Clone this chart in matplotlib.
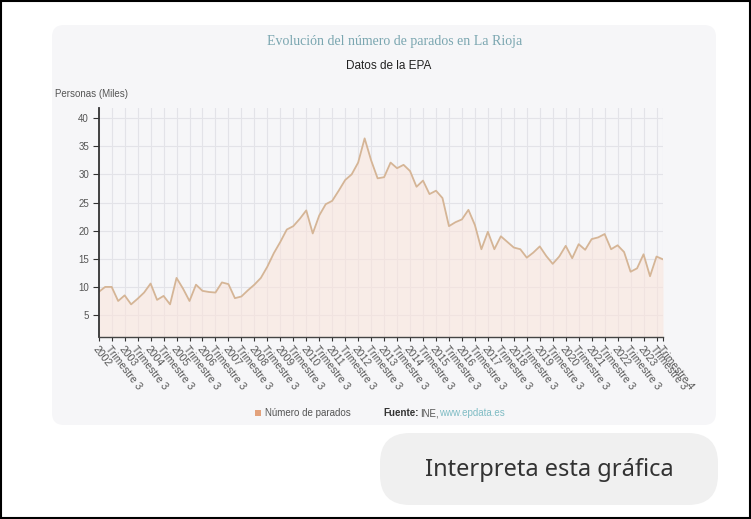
import numpy as np
import matplotlib.pyplot as plt
from matplotlib.patches import FancyBboxPatch, Rectangle

# quarterly unemployed (thousands), 2002 Q1 .. 2023 Q4
years = list(range(2002, 2024))
parados = [9.1, 10.0, 10.0, 7.5, 8.5, 6.9, 7.9, 9.0, 10.6, 7.7, 8.4, 6.9,
           11.6, 9.7, 7.5, 10.4, 9.3, 9.1, 9.0, 10.8, 10.5, 8.0, 8.3, 9.4,
           10.4, 11.6, 13.6, 16.0, 18.0, 20.2, 20.8, 22.1, 23.6, 19.5, 22.7, 24.7,
           25.3, 27.1, 29.0, 30.0, 32.1, 36.4, 32.5, 29.3, 29.5, 32.1, 31.1, 31.7,
           30.6, 27.8, 28.9, 26.5, 27.1, 25.8, 20.8, 21.5, 22.0, 23.7, 21.0, 16.7,
           19.8, 16.7, 19.0, 18.0, 17.0, 16.7, 15.2, 16.1, 17.2, 15.5, 14.1, 15.4,
           17.3, 15.1, 17.6, 16.6, 18.5, 18.8, 19.4, 16.7, 17.4, 16.2, 12.7, 13.3,
           15.8, 11.9, 15.4, 14.9]
yticks = [5, 10, 15, 20, 25, 30, 35, 40]

tick_pos = list(range(0, len(parados), 2)) + [len(parados) - 1]
tick_labels = []
for p in range(0, len(parados), 2):
    if p % 4 == 0:
        tick_labels.append(str(years[p // 4]))
    else:
        tick_labels.append('Trimestre 3')
tick_labels.append('Trimestre 4')

W, H = 751, 519
fig = plt.figure(figsize=(W / 100, H / 100), dpi=100)

# background layer in pixel coords
bg = fig.add_axes([0, 0, 1, 1])
bg.set_xlim(0, W)
bg.set_ylim(H, 0)
bg.axis('off')
bg.add_patch(Rectangle((1, 1), W - 2, H - 2, fc='white', ec='black', lw=1.5))
bg.add_patch(FancyBboxPatch((52, 25), 664, 400, boxstyle='round,pad=0,rounding_size=12',
                            fc='#f6f6f8', ec='none'))
bg.add_patch(FancyBboxPatch((380, 433), 338, 72, boxstyle='round,pad=0,rounding_size=30',
                            fc='#f0f0f0', ec='none'))

bg.text(395, 42, 'Evolución del número de parados en La Rioja', ha='center', va='center',
        family='Liberation Serif', fontsize=10, color='#7aa6b0')
bg.text(389, 66, 'Datos de la EPA', ha='center', va='center',
        family='Liberation Sans', fontsize=8.5, color='#222222')
bg.text(55, 94, 'Personas (Miles)', ha='left', va='center',
        family='Liberation Sans', fontsize=7, color='#555555')

# legend / source
bg.add_patch(Rectangle((255, 410), 6, 6, fc='#e3a27c', ec='none'))
bg.text(265, 413, 'Número de parados', ha='left', va='center',
        family='Liberation Sans', fontsize=7, color='#555555')
bg.text(383, 413, 'Fuente:', ha='left', va='center', family='Liberation Sans',
        fontsize=7, color='#333333', fontweight='bold')
bg.text(420, 413, 'INE,', ha='left', va='center', family='Liberation Sans',
        fontsize=7, color='#555555')
bg.text(439, 413, 'www.epdata.es', ha='left', va='center', family='Liberation Sans',
        fontsize=7, color='#7fbcc4')

bg.text(549, 470, 'Interpreta esta gráfica', ha='center', va='center',
        family='Noto Sans', fontsize=17, color='#333333')

# chart
ax = fig.add_axes([98.7 / W, 1 - 337 / H, (663 - 98.7) / W, (337 - 108) / H])
ax.set_facecolor('none')
x = np.arange(len(parados))
ax.fill_between(x, parados, 0, color='#fbe4da', alpha=0.55, lw=0)
ax.plot(x, parados, color='#d5b596', lw=1.3)
ax.set_xlim(0, len(parados) - 1)
ax.set_ylim(1.1, 41.8)

ax.set_yticks(yticks)
ax.set_yticklabels([str(v) for v in yticks], family='Liberation Sans', fontsize=7, color='#555555')
ax.set_xticks(tick_pos)
ax.set_xticklabels(tick_labels, rotation=-52, ha='left', va='top', rotation_mode='anchor',
                   family='Liberation Sans', fontsize=7.5, color='#555555')
ax.tick_params(axis='y', length=4, width=0.8, color='#333333', pad=3)
ax.tick_params(axis='x', length=3, width=0.8, color='#333333', pad=2)
ax.grid(True, color='#e3e3e8', lw=0.8)
ax.set_axisbelow(True)
for s in ['top', 'right']:
    ax.spines[s].set_visible(False)
ax.spines['left'].set_color('#333333')
ax.spines['left'].set_linewidth(1.3)
ax.spines['bottom'].set_color('#444444')
ax.spines['bottom'].set_linewidth(1.0)

fig.savefig('out.png', dpi=100)
